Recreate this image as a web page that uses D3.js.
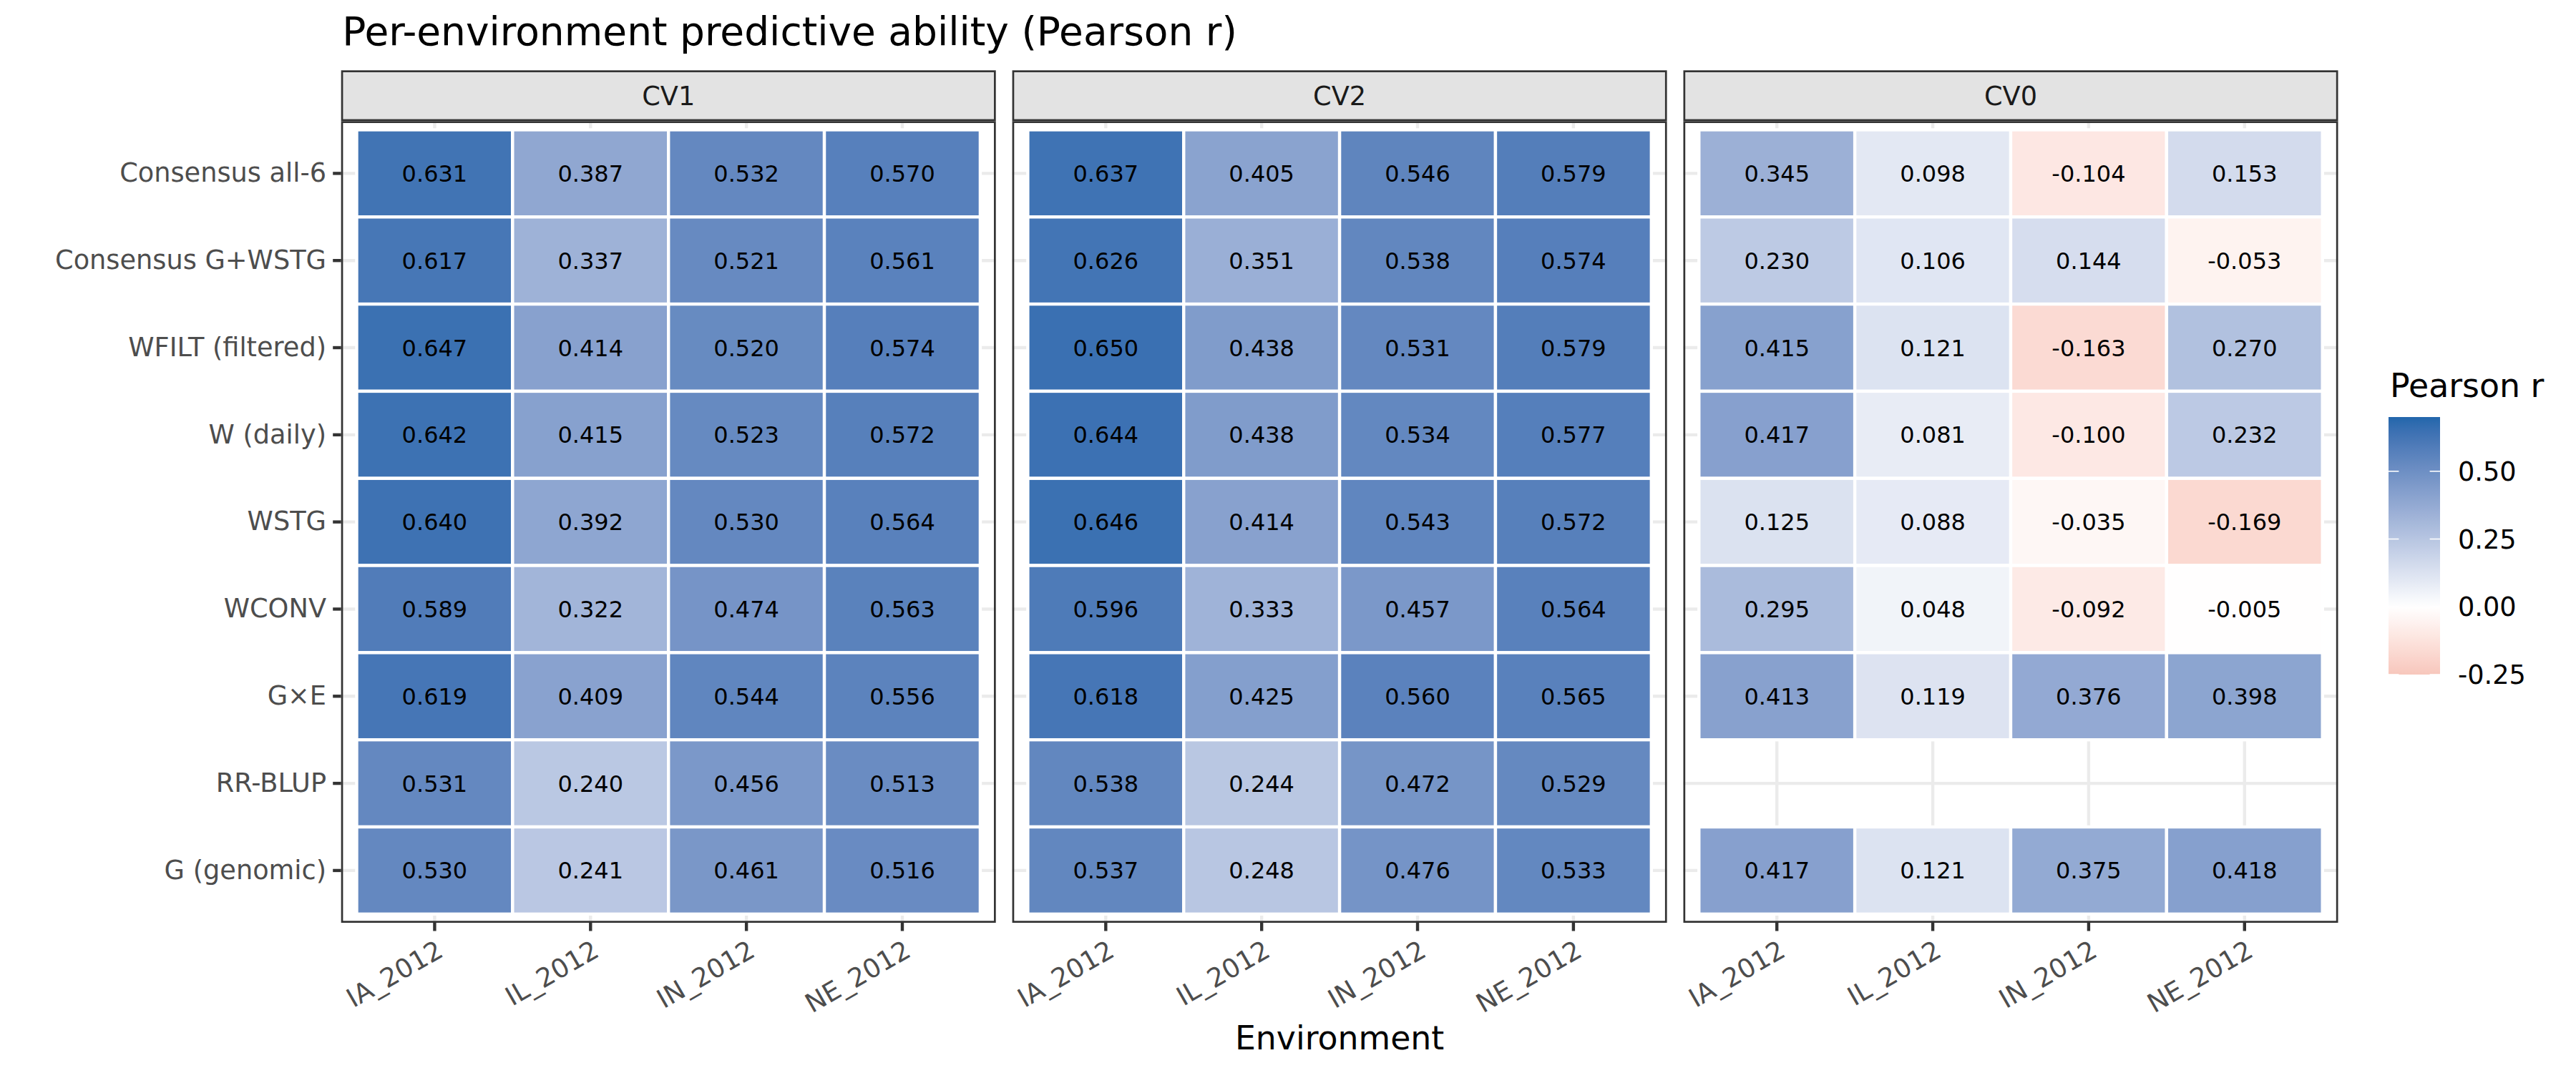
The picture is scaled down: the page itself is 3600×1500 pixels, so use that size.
<!DOCTYPE html>
<html>
<head>
<meta charset="utf-8">
<script src="https://cdn.jsdelivr.net/npm/d3@7"></script>
<style>
  body { margin: 0; background: #fff; }
  text { font-family: "DejaVu Sans", sans-serif; }
</style>
</head>
<body>
<div id="chart"></div>
<script>
// Rows (top to bottom) and columns
const models = ["Consensus all-6", "Consensus G+WSTG", "WFILT (filtered)", "W (daily)",
  "WSTG", "WCONV", "G×E", "RR-BLUP", "G (genomic)"];
const envs = ["IA_2012", "IL_2012", "IN_2012", "NE_2012"];
const schemes = ["CV1", "CV2", "CV0"];

// Pearson r per model (rows) x environment (cols)
const cv1 = [
  [0.631, 0.387, 0.532, 0.570],
  [0.617, 0.337, 0.521, 0.561],
  [0.647, 0.414, 0.520, 0.574],
  [0.642, 0.415, 0.523, 0.572],
  [0.640, 0.392, 0.530, 0.564],
  [0.589, 0.322, 0.474, 0.563],
  [0.619, 0.409, 0.544, 0.556],
  [0.531, 0.240, 0.456, 0.513],
  [0.530, 0.241, 0.461, 0.516]
];
const cv2 = [
  [0.637, 0.405, 0.546, 0.579],
  [0.626, 0.351, 0.538, 0.574],
  [0.650, 0.438, 0.531, 0.579],
  [0.644, 0.438, 0.534, 0.577],
  [0.646, 0.414, 0.543, 0.572],
  [0.596, 0.333, 0.457, 0.564],
  [0.618, 0.425, 0.560, 0.565],
  [0.538, 0.244, 0.472, 0.529],
  [0.537, 0.248, 0.476, 0.533]
];
const cv0 = [
  [0.345, 0.098, -0.104, 0.153],
  [0.230, 0.106, 0.144, -0.053],
  [0.415, 0.121, -0.163, 0.270],
  [0.417, 0.081, -0.100, 0.232],
  [0.125, 0.088, -0.035, -0.169],
  [0.295, 0.048, -0.092, -0.005],
  [0.413, 0.119, 0.376, 0.398],
  [null, null, null, null],
  [0.417, 0.121, 0.375, 0.418]
];
const schemeValues = { CV1: cv1, CV2: cv2, CV0: cv0 };

const legendLimits = [-0.25, 0.70];
const legendBreaks = [-0.25, 0.00, 0.25, 0.50];

const width = 3600;
const height = 1500;

// panel layout (ggplot theme_bw look, 300 dpi)
const panelLeft = 476.7;
const panelTop = 169.3;
const panelW = 915;
const panelH = 1120.7;
const panelGap = 22.9;
const stripH = 71;
const tickLen = 11.5;
const tickPad = 9.2;
const lineW = 4.4;

const svg = d3.select("#chart")
  .append("svg")
  .attr("width", width)
  .attr("height", height);

svg.append("rect").attr("width", width).attr("height", height).attr("fill", "white");

// diverging fill: low / white / high, symmetric around 0
const maxAbs = Math.max(...legendLimits.map(Math.abs));
const color = d3.scaleLinear()
  .domain([-maxAbs, 0, maxAbs])
  .range(["#D6604D", "#FFFFFF", "#2166AC"])
  .interpolate(d3.interpolateLab);

const x = d3.scaleBand()
  .domain(envs)
  .range([0, panelW])
  .paddingInner(0)
  .paddingOuter(0.1);

const y = d3.scaleBand()
  .domain(models)
  .range([0, panelH])
  .paddingInner(0)
  .paddingOuter(0.1);

schemes.forEach((scheme, si) => {
  const px = panelLeft + si * (panelW + panelGap);
  const g = svg.append("g").attr("transform", `translate(${px},${panelTop})`);

  const cells = [];
  schemeValues[scheme].forEach((row, i) => {
    row.forEach((v, j) => {
      if (v !== null) cells.push({ model: models[i], env: envs[j], value: v });
    });
  });

  // grid lines
  g.selectAll(".vgrid")
    .data(envs)
    .join("line")
    .attr("x1", d => x(d) + x.bandwidth() / 2)
    .attr("x2", d => x(d) + x.bandwidth() / 2)
    .attr("y1", 0)
    .attr("y2", panelH)
    .attr("stroke", "#EBEBEB")
    .attr("stroke-width", lineW);

  g.selectAll(".hgrid")
    .data(models)
    .join("line")
    .attr("x1", 0)
    .attr("x2", panelW)
    .attr("y1", d => y(d) + y.bandwidth() / 2)
    .attr("y2", d => y(d) + y.bandwidth() / 2)
    .attr("stroke", "#EBEBEB")
    .attr("stroke-width", lineW);

  // tiles
  g.selectAll(".tile")
    .data(cells)
    .join("rect")
    .attr("class", "tile")
    .attr("x", d => x(d.env))
    .attr("y", d => y(d.model))
    .attr("width", x.bandwidth())
    .attr("height", y.bandwidth())
    .attr("fill", d => color(d.value))
    .attr("stroke", "white")
    .attr("stroke-width", lineW);

  g.selectAll(".lab")
    .data(cells)
    .join("text")
    .attr("x", d => x(d.env) + x.bandwidth() / 2)
    .attr("y", d => y(d.model) + y.bandwidth() / 2)
    .attr("dy", "0.36em")
    .attr("text-anchor", "middle")
    .style("font-size", "32px")
    .style("fill", "black")
    .text(d => d.value.toFixed(3));

  // panel border
  g.append("rect")
    .attr("x", 1.35)
    .attr("y", 1.35)
    .attr("width", panelW - 2.7)
    .attr("height", panelH - 2.7)
    .attr("fill", "none")
    .attr("stroke", "#333333")
    .attr("stroke-width", 2.7);

  // strip
  const strip = svg.append("g").attr("transform", `translate(${px},${panelTop - stripH})`);
  strip.append("rect")
    .attr("x", 1.35)
    .attr("y", 1.35)
    .attr("width", panelW - 2.7)
    .attr("height", stripH - 2.7)
    .attr("fill", "#E3E3E3")
    .attr("stroke", "#333333")
    .attr("stroke-width", 2.7);
  strip.append("text")
    .attr("x", panelW / 2)
    .attr("y", stripH / 2)
    .attr("dy", "0.36em")
    .attr("text-anchor", "middle")
    .style("font-size", "36.7px")
    .style("fill", "#1A1A1A")
    .text(scheme);

  // x axis
  const xAxis = g.append("g")
    .attr("transform", `translate(0,${panelH})`)
    .call(d3.axisBottom(x).tickSize(tickLen).tickSizeOuter(0));
  xAxis.select(".domain").remove();
  xAxis.selectAll(".tick line").attr("stroke", "#333333").attr("stroke-width", lineW);
  xAxis.selectAll(".tick text")
    .attr("x", 0)
    .attr("y", 0)
    .attr("dy", "0.78em")
    .attr("transform", `translate(0,${tickLen + tickPad}) rotate(-30)`)
    .attr("text-anchor", "end")
    .style("font-size", "36.7px")
    .style("font-family", "DejaVu Sans, sans-serif")
    .style("fill", "#4D4D4D");

  // y axis on the first panel only
  if (si === 0) {
    const yAxis = g.append("g")
      .call(d3.axisLeft(y).tickSize(tickLen).tickPadding(tickPad).tickSizeOuter(0));
    yAxis.select(".domain").remove();
    yAxis.selectAll(".tick line").attr("stroke", "#333333").attr("stroke-width", lineW);
    yAxis.selectAll(".tick text")
      .style("font-size", "36.7px")
      .style("font-family", "DejaVu Sans, sans-serif")
      .style("fill", "#4D4D4D");
  }
});

// title
svg.append("text")
  .attr("x", 478.3)
  .attr("y", 63.3)
  .style("font-size", "55px")
  .style("fill", "black")
  .text("Per-environment predictive ability (Pearson r)");

// x axis title
const panelsW = 3 * panelW + 2 * panelGap;
svg.append("text")
  .attr("x", panelLeft + panelsW / 2)
  .attr("y", 1467)
  .attr("text-anchor", "middle")
  .style("font-size", "45.8px")
  .style("fill", "black")
  .text("Environment");

// legend (colour bar)
const barX = 3338;
const barY = 583;
const barW = 72;
const barH = 360;

const legendScale = d3.scaleLinear()
  .domain(legendLimits)
  .range([barY + barH, barY]);

const gradient = svg.append("defs")
  .append("linearGradient")
  .attr("id", "legend-gradient")
  .attr("x1", "0%")
  .attr("x2", "0%")
  .attr("y1", "100%")
  .attr("y2", "0%");

d3.range(0, 1.0001, 0.02).forEach(t => {
  gradient.append("stop")
    .attr("offset", `${t * 100}%`)
    .attr("stop-color", color(legendLimits[0] + t * (legendLimits[1] - legendLimits[0])));
});

svg.append("text")
  .attr("x", 3340)
  .attr("y", 555)
  .style("font-size", "45.8px")
  .style("fill", "black")
  .text("Pearson r");

svg.append("rect")
  .attr("x", barX)
  .attr("y", barY)
  .attr("width", barW)
  .attr("height", barH)
  .style("fill", "url(#legend-gradient)");

const tickW = barW / 5;
legendBreaks.forEach(b => {
  const yy = legendScale(b);
  svg.append("line")
    .attr("x1", barX).attr("x2", barX + tickW)
    .attr("y1", yy).attr("y2", yy)
    .attr("stroke", "white").attr("stroke-width", 1.6);
  svg.append("line")
    .attr("x1", barX + barW - tickW).attr("x2", barX + barW)
    .attr("y1", yy).attr("y2", yy)
    .attr("stroke", "white").attr("stroke-width", 1.6);
});

svg.selectAll(".legend-label")
  .data(legendBreaks)
  .join("text")
  .attr("x", 3435)
  .attr("y", d => legendScale(d))
  .attr("dy", "0.36em")
  .style("font-size", "36.7px")
  .style("fill", "black")
  .text(d => d.toFixed(2));
</script>
</body>
</html>
